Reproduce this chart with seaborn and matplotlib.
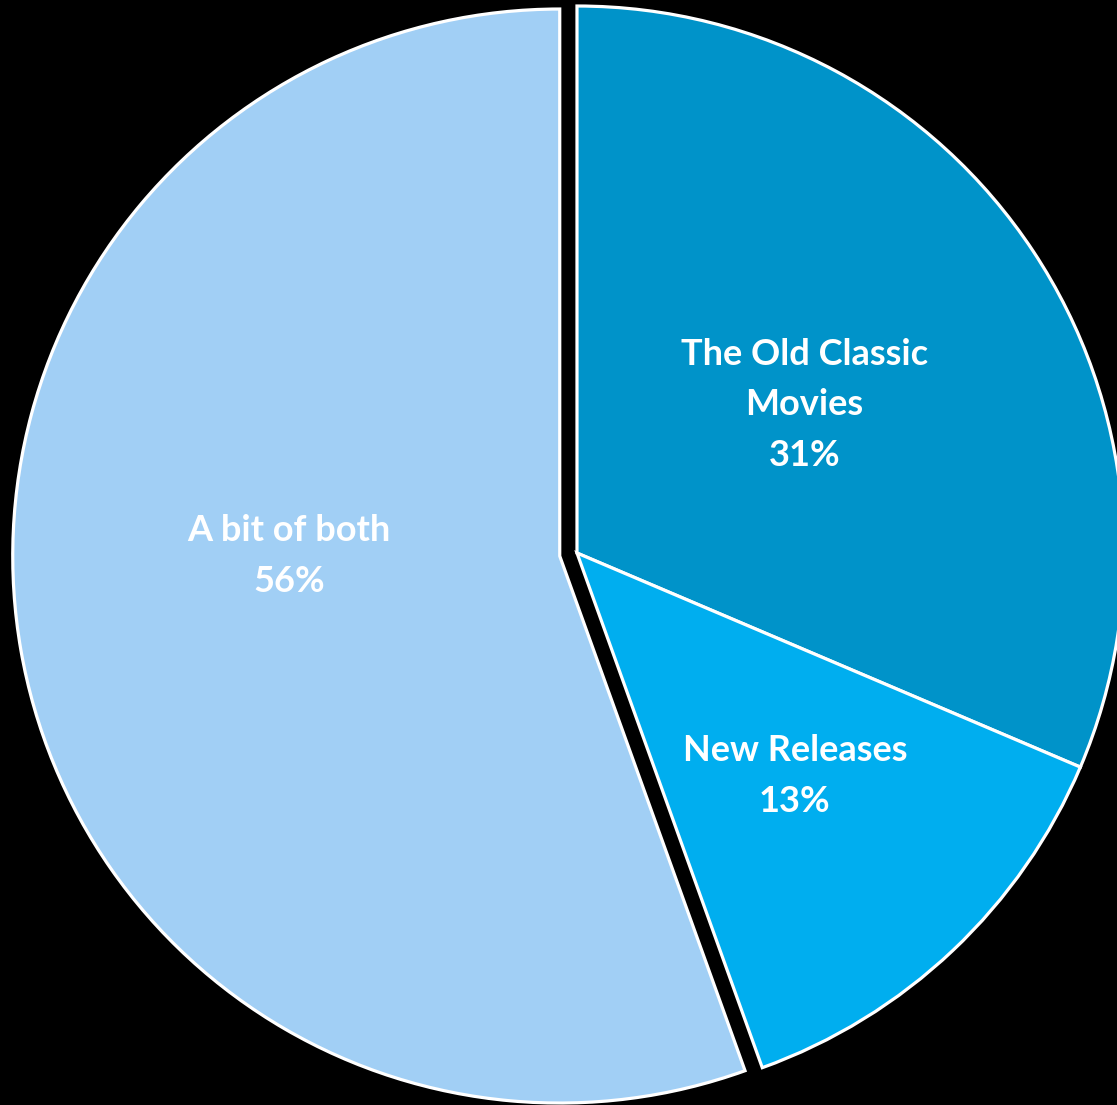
import numpy as np
import seaborn as sns
import matplotlib.pyplot as plt

categories = ["The Old Classic\nMovies", "New Releases", "A bit of both"]
shares = [31.4, 13.1, 55.5]
colors = ["#0093C9", "#00AEEF", "#A1CFF5"]
explode = [0, 0, 0.032]

# label radius / angle nudge (deg) per slice
label_r = [0.496, 0.570, 0.495]
label_dang = [-0.4, 0.95, -9.9]

sns.set_theme(style="white")
plt.rcParams['font.family'] = ['Lato', 'DejaVu Sans']

fig = plt.figure(figsize=(11.17, 11.05), dpi=100, facecolor="black")
ax = fig.add_axes([0, 0, 1, 1])
ax.set_facecolor("black")

wedges, _ = ax.pie(shares, colors=colors, explode=explode, startangle=90,
                   counterclock=False,
                   wedgeprops=dict(edgecolor="white", linewidth=2.3))

for w, name, val, r, da in zip(wedges, categories, shares, label_r, label_dang):
    ang = np.deg2rad((w.theta1 + w.theta2) / 2 + da)
    cx, cy = w.center
    ax.text(cx + r * np.cos(ang), cy + r * np.sin(ang), f"{name}\n{val:.0f}%",
            ha="center", va="center", color="white", fontsize=26,
            fontweight="bold", linespacing=1.65)

ax.set_xlim(-1.0548, 0.9872)
ax.set_ylim(-1.0091, 1.011)
ax.set_aspect("equal")
ax.axis("off")

fig.savefig("out.png", dpi=100, facecolor="black")
